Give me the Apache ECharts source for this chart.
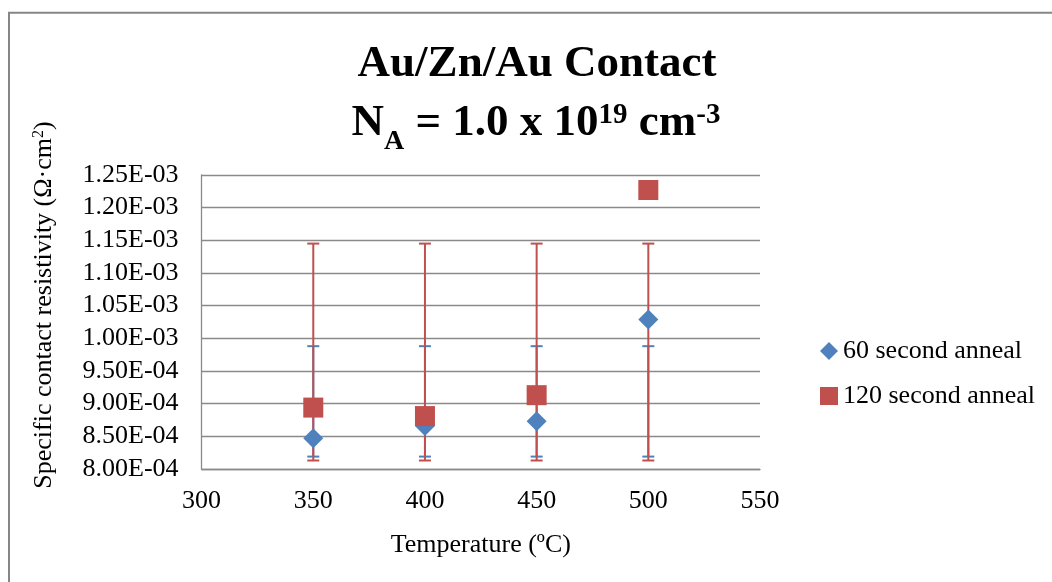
<!DOCTYPE html>
<html><head><meta charset="utf-8">
<script src="https://cdn.jsdelivr.net/npm/echarts@6/dist/echarts.min.js"></script>
<style>html,body{margin:0;padding:0;background:#fff}#c{width:1052px;height:582px}</style>
</head><body><div id="c"></div>
<script>
// ---- data ----
const temps = [350, 400, 450, 500];
const anneal60 = [8.47e-4, 8.66e-4, 8.73e-4, 1.029e-3];
const anneal120 = [8.94e-4, 8.81e-4, 9.13e-4, 1.227e-3];
const err60Low = [8.19e-4, 8.19e-4, 8.19e-4, 8.19e-4];
const err60High = [9.88e-4, 9.88e-4, 9.88e-4, 9.88e-4];
const err120Low = [8.13e-4, 8.13e-4, 8.13e-4, 8.13e-4];
const err120High = [1.145e-3, 1.145e-3, 1.145e-3, 1.145e-3];
const seriesNames = ['60 second anneal', '120 second anneal'];
const xTickLabels = ['300', '350', '400', '450', '500', '550'];
const yTickLabels = ['8.00E-04','8.50E-04','9.00E-04','9.50E-04','1.00E-03','1.05E-03','1.10E-03','1.15E-03','1.20E-03','1.25E-03'];
const titleLine1 = 'Au/Zn/Au Contact';
const xAxisName = 'Temperature (\u00BAC)';

const X_MIN = 300, X_MAX = 550, X_INT = 50;
const Y_MIN = 8.0e-4, Y_MAX = 1.25e-3, Y_INT = 5e-5;

const BLUE = '#4F81BD', RED = '#C0504D', GRID = '#8a8a8a';
const FONT = '"Liberation Serif", "Times New Roman", serif';

function errRender(color) {
  return function (params, api) {
    const x = api.value(0), lo = api.value(1), hi = api.value(2);
    const pLo = api.coord([x, lo]), pHi = api.coord([x, hi]);
    const w = 6;
    const st = { stroke: color, lineWidth: 2 };
    return { type: 'group', children: [
      { type: 'line', shape: { x1: pLo[0], y1: pLo[1], x2: pHi[0], y2: pHi[1] }, style: st },
      { type: 'line', shape: { x1: pLo[0] - w, y1: pLo[1], x2: pLo[0] + w, y2: pLo[1] }, style: st },
      { type: 'line', shape: { x1: pHi[0] - w, y1: pHi[1], x2: pHi[0] + w, y2: pHi[1] }, style: st }
    ]};
  };
}

const chart = echarts.init(document.getElementById('c'), null, { renderer: 'canvas' });
chart.setOption({
  animation: false,
  backgroundColor: '#fff',
  textStyle: { fontFamily: FONT },
  grid: { left: 201.6, right: 292, top: 175, bottom: 113, containLabel: false },
  xAxis: {
    type: 'value', min: X_MIN, max: X_MAX, interval: X_INT,
    name: xAxisName, nameLocation: 'middle', nameGap: 63,
    nameTextStyle: { fontFamily: FONT, fontSize: 26, color: '#000' },
    axisLine: { show: true, lineStyle: { color: GRID, width: 1.3 } },
    axisTick: { show: false },
    splitLine: { show: false },
    axisLabel: { fontFamily: FONT, fontSize: 26, color: '#000', margin: 19,
      formatter: v => xTickLabels[Math.round((v - X_MIN) / X_INT)] }
  },
  yAxis: {
    type: 'value', min: Y_MIN, max: Y_MAX, interval: Y_INT,
    axisLine: { show: true, lineStyle: { color: GRID, width: 1.3 } },
    axisTick: { show: false },
    splitLine: { show: true, lineStyle: { color: GRID, width: 1.3 } },
    axisLabel: { fontFamily: FONT, fontSize: 26, color: '#000', margin: 23,
      formatter: v => yTickLabels[Math.round((v - Y_MIN) / Y_INT)] }
  },
  legend: {
    data: [
      { name: seriesNames[0], icon: 'diamond' },
      { name: seriesNames[1], icon: 'rect' }
    ],
    orient: 'vertical', left: 815, top: 331, itemWidth: 18, itemHeight: 18, itemGap: 15,
    textStyle: { fontFamily: FONT, fontSize: 26, color: '#000', lineHeight: 30 }
  },
  series: [
    { type: 'custom', name: 'err60', renderItem: errRender(BLUE), z: 2,
      encode: { x: 0, y: [1, 2] },
      data: temps.map((t, i) => [t, err60Low[i], err60High[i]]) },
    { type: 'custom', name: 'err120', renderItem: errRender(RED), z: 3,
      encode: { x: 0, y: [1, 2] },
      data: temps.map((t, i) => [t, err120Low[i], err120High[i]]) },
    { type: 'scatter', name: seriesNames[0], symbol: 'diamond', symbolSize: 20, z: 4,
      itemStyle: { color: BLUE, opacity: 1 },
      data: temps.map((t, i) => [t, anneal60[i]]) },
    { type: 'scatter', name: seriesNames[1], symbol: 'rect', symbolSize: 20, z: 5,
      itemStyle: { color: RED, opacity: 1 },
      data: temps.map((t, i) => [t, anneal120[i]]) }
  ],
  graphic: [
    { type: 'rect', z: 0, shape: { x: 9, y: 12.7, width: 1200, height: 800 },
      style: { fill: 'none', stroke: '#868686', lineWidth: 2 } },
    { type: 'text', x: 537, y: 64, style: {
        text: titleLine1, fontFamily: FONT, fontSize: 45, fontWeight: 'bold',
        fill: '#000', align: 'center', verticalAlign: 'middle' } },
    { type: 'text', x: 536, y: 101, style: {
        text: '{b|N}{sub|A}{b| = 1.0 x 10}{sup|19}{b| cm}{sup|-3}',
        align: 'center', verticalAlign: 'top', fill: '#000',
        rich: {
          b: { fontFamily: FONT, fontSize: 45, fontWeight: 'bold', lineHeight: 50, verticalAlign: 'top', fill: '#000' },
          sub: { fontFamily: FONT, fontSize: 28, fontWeight: 'bold', lineHeight: 28, verticalAlign: 'top', padding: [27, 0, 0, 0], fill: '#000' },
          sup: { fontFamily: FONT, fontSize: 29, fontWeight: 'bold', lineHeight: 29, verticalAlign: 'top', fill: '#000' }
        } } },
    { type: 'text', x: 45, y: 305, rotation: Math.PI / 2, style: {
        text: '{m|Specific contact resistivity (\u03A9\u00B7cm}{s|2}{m|)}',
        align: 'center', verticalAlign: 'middle', fill: '#000',
        rich: {
          m: { fontFamily: FONT, fontSize: 26, lineHeight: 28, verticalAlign: 'top', fill: '#000' },
          s: { fontFamily: FONT, fontSize: 16, lineHeight: 16, verticalAlign: 'top', fill: '#000' }
        } } }
  ]
});
</script>
</body></html>
